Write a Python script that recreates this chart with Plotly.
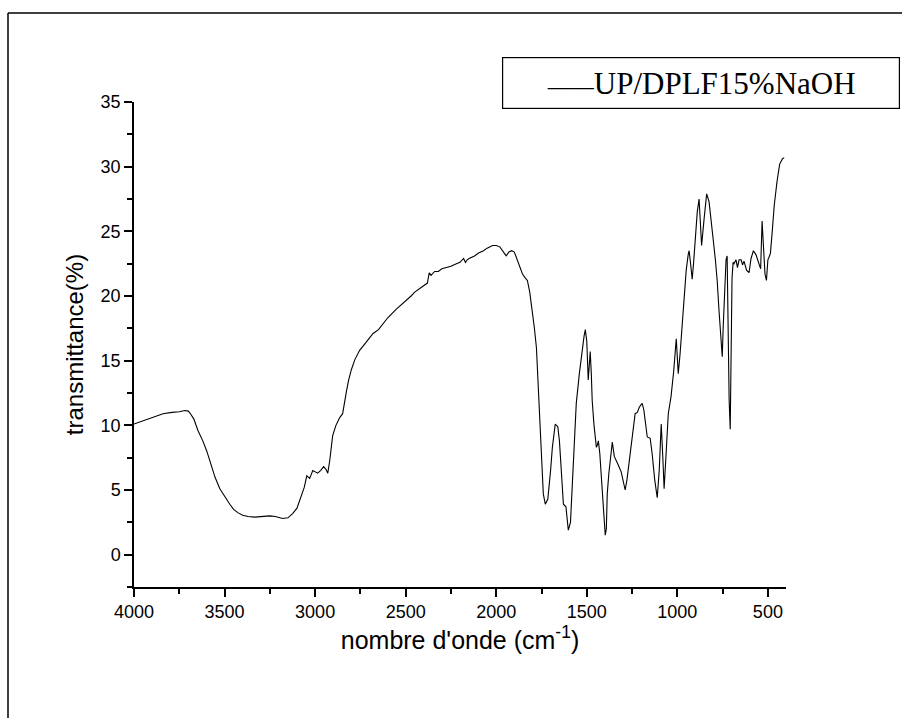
import plotly.graph_objects as go

# wavenumber (cm-1) and transmittance (%)
wavenumber = [
    4000, 3990, 3940, 3890, 3840, 3790, 3750, 3719, 3700, 3691, 3670, 3647, 3620, 3598,
    3575, 3553, 3526, 3500, 3471, 3450, 3427, 3400, 3370, 3333, 3300, 3250, 3220,
    3179, 3150, 3123, 3100, 3085, 3060, 3046, 3030, 3013, 2986, 2970, 2953, 2940,
    2930, 2919, 2903, 2885, 2864, 2848, 2835, 2826, 2815, 2800, 2780, 2754, 2720,
    2700, 2680, 2650, 2620, 2600, 2550, 2500, 2470, 2450, 2420, 2400, 2380, 2370,
    2360, 2340, 2320, 2300, 2270, 2250, 2220, 2200, 2180, 2170, 2160, 2150, 2120,
    2100, 2070, 2050, 2020, 2000, 1980, 1960, 1945, 1930, 1915, 1900, 1883, 1870,
    1855, 1840, 1828, 1815, 1800, 1790, 1778, 1770, 1762, 1751, 1740, 1729, 1715,
    1700, 1690, 1674, 1660, 1651, 1642, 1635, 1629, 1615, 1602, 1590, 1575, 1558,
    1541, 1525, 1515, 1508, 1500, 1492, 1486, 1481, 1475, 1470, 1460, 1447, 1441,
    1436, 1428, 1420, 1410, 1398, 1392, 1387, 1378, 1370, 1359, 1348, 1337, 1325,
    1310, 1300, 1288, 1278, 1266, 1249, 1233, 1221, 1210, 1200, 1194, 1185, 1175,
    1166, 1150, 1139, 1125, 1111, 1100, 1089, 1080, 1073, 1062, 1050, 1035, 1020,
    1006, 995, 985, 973, 962, 951, 940, 935, 926, 918, 910, 900, 890, 880, 866,
    852, 838, 825, 815, 803, 790, 780, 770, 758, 752, 747, 740, 731, 725, 720,
    714, 708, 703, 698, 692, 687, 676, 668, 659, 648, 640, 632, 618, 604, 593, 580,
    566, 549, 540, 532, 524, 516, 508, 500, 494, 486, 477, 465, 450, 435, 420, 410,
    405,
]
transmittance = [
    10.1, 10.15, 10.45, 10.7, 10.9, 11.0, 11.05, 11.15, 11.1, 10.95, 10.5, 9.6, 8.8, 8.0,
    7.0, 6.0, 5.1, 4.5, 3.9, 3.5, 3.25, 3.05, 2.95, 2.9, 2.95, 3.0, 2.95,
    2.8, 2.85, 3.2, 3.6, 4.2, 5.2, 6.1, 5.9, 6.5, 6.3, 6.5, 6.8, 6.6,
    6.3, 7.3, 9.2, 10.0, 10.6, 10.9, 11.8, 12.7, 13.5, 14.3, 15.1, 15.8, 16.4,
    16.8, 17.1, 17.4, 18.0, 18.3, 19.0, 19.6, 20.0, 20.3, 20.6, 20.8, 21.0, 21.8,
    21.6, 21.9, 21.9, 22.1, 22.2, 22.3, 22.5, 22.6, 22.9, 22.6, 22.8, 22.9, 23.1,
    23.3, 23.5, 23.7, 23.9, 23.9, 23.8, 23.4, 23.1, 23.4, 23.5, 23.4, 22.7, 22.3,
    21.7, 21.4, 21.2, 20.3, 18.9, 17.6, 16.0, 13.6, 11.1, 7.3, 4.7, 3.9, 4.3,
    6.5, 8.3, 10.1, 9.9, 8.8, 6.8, 5.2, 3.9, 3.7, 1.9, 2.5, 6.5, 11.7,
    14.0, 16.0, 16.9, 17.4, 16.5, 13.5, 15.0, 15.7, 14.0, 11.9, 10.0, 8.3, 8.5,
    8.8, 7.8, 6.3, 4.0, 1.5, 2.0, 4.7, 6.3, 7.3, 8.7, 7.6, 7.2, 6.9,
    6.4, 5.8, 5.0, 5.8, 7.3, 9.4, 10.9, 11.0, 11.4, 11.6, 11.7, 11.2, 10.0,
    9.1, 9.0, 7.8, 5.8, 4.4, 6.5, 10.1, 7.5, 5.1, 7.8, 10.9, 12.2, 14.2,
    16.7, 14.0, 15.5, 17.9, 19.8, 22.0, 23.2, 23.5, 22.4, 21.3, 22.6, 24.5, 26.5, 27.5,
    23.9, 26.0, 27.9, 27.3, 25.8, 24.5, 22.8, 21.2, 18.9, 16.6, 15.3, 17.5, 20.2, 22.8, 23.1,
    17.0, 12.0, 9.7, 15.0, 21.4, 22.6, 22.5, 22.8, 22.2, 22.8, 22.8, 22.4, 22.7, 22.0, 21.8, 22.9,
    23.5, 23.2, 22.4, 22.1, 25.8, 23.7, 21.7, 21.2, 22.8, 23.0, 23.3, 24.8, 27.0, 28.8, 30.2, 30.6,
    30.7,
]

x_ticks = [4000, 3500, 3000, 2500, 2000, 1500, 1000, 500]
y_ticks = [0, 5, 10, 15, 20, 25, 30, 35]

series_name = "UP/DPLF15%NaOH"

fig = go.Figure()
fig.add_trace(go.Scatter(
    x=wavenumber, y=transmittance, mode="lines",
    line=dict(color="black", width=1.1), name=series_name, showlegend=False,
))

W, H = 902, 718
ml, mr, mt, mb = 134, 116, 102, 131
pw, ph = W - ml - mr, H - mt - mb

def px(xp):
    return (xp - ml) / pw

def py(yp):
    return (H - mb - yp) / ph

axis_common = dict(
    showline=True, linecolor="black", linewidth=1.5, showgrid=False, zeroline=False,
    ticks="outside", ticklen=8, tickwidth=1.5, tickcolor="black",
    tickfont=dict(family="Liberation Sans, Arial", size=18, color="black"),
    mirror=False,
)

fig.update_layout(
    width=W, height=H,
    margin=dict(l=ml, r=mr, t=mt, b=mb, pad=0),
    paper_bgcolor="white", plot_bgcolor="white",
    xaxis=dict(
        range=[4000, 400], tickmode="array", tickvals=x_ticks,
        ticktext=[str(v) for v in x_ticks],
        minor=dict(ticks="outside", ticklen=5, tickwidth=1.5, tickcolor="black", dtick=250, tick0=0, showgrid=False),
        title=dict(text="nombre d'onde (cm<sup>-1</sup>)",
                   font=dict(family="Liberation Sans, Arial", size=25, color="black"), standoff=5),
        **axis_common,
    ),
    yaxis=dict(
        range=[-2.5, 35], tickmode="array", tickvals=y_ticks,
        ticktext=[str(v) for v in y_ticks],
        minor=dict(ticks="outside", ticklen=5, tickwidth=1.5, tickcolor="black", dtick=2.5, tick0=0, showgrid=False),
        title=dict(text="transmittance(%)",
                   font=dict(family="Liberation Sans, Arial", size=24, color="black"), standoff=10),
        **axis_common,
    ),
    showlegend=False,
)

# legend box
fig.add_annotation(
    xref="paper", yref="paper", x=px(502), y=py(57), xanchor="left", yanchor="top",
    text='<span style="font-size:23px">——</span>' + series_name,
    showarrow=False, align="center",
    font=dict(family="Liberation Serif, Times New Roman", size=31, color="black"),
    bordercolor="black", borderwidth=1.2, borderpad=6, bgcolor="white",
    width=384, height=38,
)

# outer frame (top and left edges)
fig.add_shape(type="line", xref="paper", yref="paper", x0=px(8), y0=py(13), x1=px(910), y1=py(13),
              line=dict(color="black", width=1.5))
fig.add_shape(type="line", xref="paper", yref="paper", x0=px(8), y0=py(13), x1=px(8), y1=py(730),
              line=dict(color="black", width=1.5))

fig.write_html("out.html")
